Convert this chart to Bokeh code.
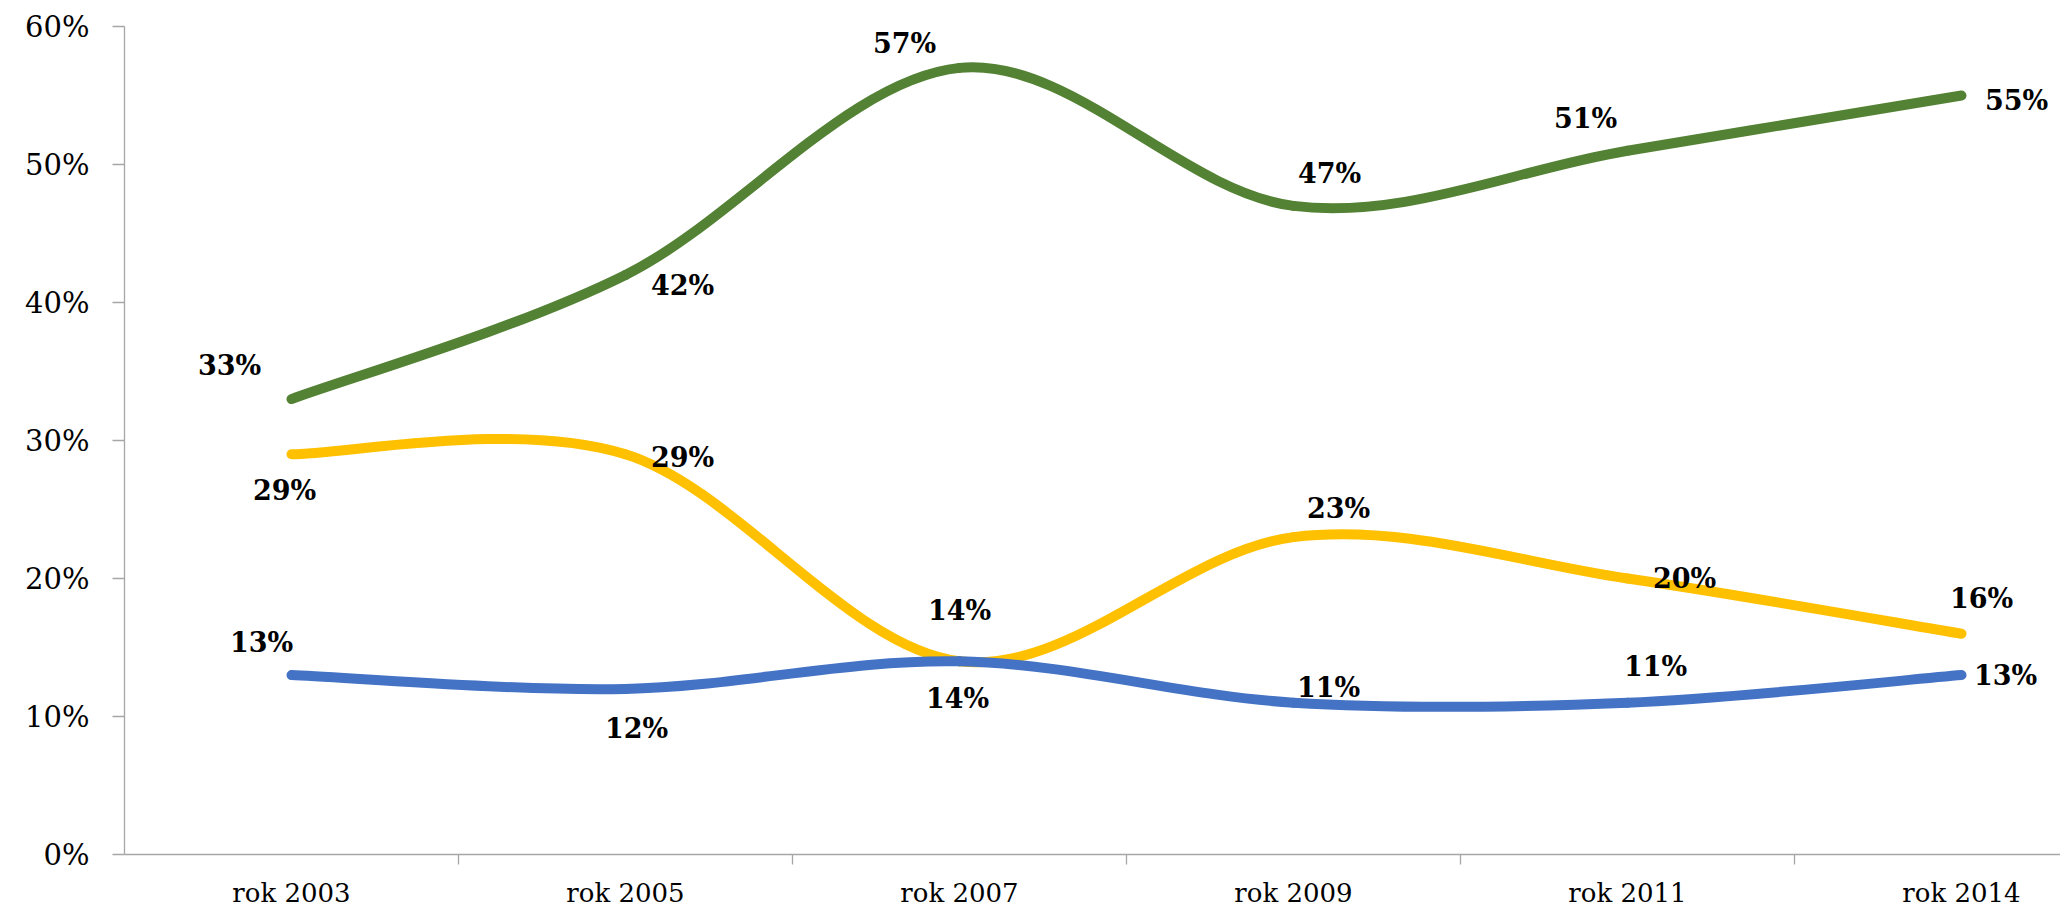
from bokeh.plotting import figure
from bokeh.models import FixedTicker, PrintfTickFormatter, ColumnDataSource, Range1d
from bokeh.core.properties import value
from bokeh.embed import file_html
from bokeh.resources import INLINE

# ---- data ----
categories = ["rok 2003", "rok 2005", "rok 2007", "rok 2009", "rok 2011", "rok 2014"]
green_vals = [33, 42, 57, 47, 51, 55]
yellow_vals = [29, 29, 14, 23, 20, 16]
blue_vals = [13, 12, 14, 11, 11, 13]
y_ticks = [0, 10, 20, 30, 40, 50, 60]

# ---- styles ----
GREEN = "#548235"
YELLOW = "#FFC000"
BLUE = "#4472C4"
AXIS = "#A6A6A6"
FONT = "DejaVu Serif"

# label offsets in pixels (dx, dy; dy positive = downward)
green_off = [(-62, -34), (57, 11), (-55, -24), (36, -32), (-42, -32), (55, 5)]
yellow_off = [(-7, 36), (57, 3), (0, -51), (45, -29), (57, 0), (20, -35)]
blue_off = [(-30, -33), (11, 40), (-2, 37), (35, -15), (28, -36), (44, 0)]

W, H = 2060, 914
LEFT, TOP, BOTTOM = 124, 26, 60
PX_PER_CAT = 334
FRAME_W = W - LEFT

p = figure(width=W, height=H,
           x_range=Range1d(-0.5, -0.5 + FRAME_W / PX_PER_CAT),
           y_range=Range1d(0, 60),
           output_backend="svg", toolbar_location=None,
           min_border_left=LEFT, min_border_right=0,
           min_border_top=TOP, min_border_bottom=BOTTOM)
p.outline_line_color = None
p.xgrid.visible = False
p.ygrid.visible = False
p.background_fill_color = "white"
p.border_fill_color = "white"

idx = list(range(len(categories)))

# x axis
p.xaxis.ticker = FixedTicker(ticks=idx, minor_ticks=[i + 0.5 for i in idx])
p.xaxis.major_label_overrides = {i: c for i, c in zip(idx, categories)}
p.xaxis.major_tick_out = 0
p.xaxis.major_tick_in = 0
p.xaxis.minor_tick_out = 10
p.xaxis.minor_tick_in = 0
p.xaxis.minor_tick_line_color = AXIS
p.xaxis.minor_tick_line_width = 1.3
p.xaxis.axis_line_color = AXIS
p.xaxis.axis_line_width = 1.3
p.xaxis.major_label_text_font = FONT
p.xaxis.major_label_text_font_size = "26px"
p.xaxis.major_label_text_color = "black"
p.xaxis.major_label_standoff = 13

# y axis
p.yaxis.ticker = FixedTicker(ticks=y_ticks, minor_ticks=[])
p.yaxis.formatter = PrintfTickFormatter(format="%d%%")
p.yaxis.major_tick_out = 12
p.yaxis.major_tick_in = 0
p.yaxis.major_tick_line_color = AXIS
p.yaxis.major_tick_line_width = 1.3
p.yaxis.axis_line_color = AXIS
p.yaxis.axis_line_width = 1.3
p.yaxis.major_label_text_font = FONT
p.yaxis.major_label_text_font_size = "29px"
p.yaxis.major_label_text_color = "black"
p.yaxis.major_label_standoff = 23


def smooth_segments(vals, t=1.0 / 6.0):
    n = len(vals)
    pts = list(zip(range(n), vals))
    d = dict(x0=[], y0=[], x1=[], y1=[], cx0=[], cy0=[], cx1=[], cy1=[])
    for i in range(n - 1):
        pp = pts[max(i - 1, 0)]
        p0 = pts[i]
        p1 = pts[i + 1]
        pn = pts[min(i + 2, n - 1)]
        d["x0"].append(p0[0]); d["y0"].append(p0[1])
        d["x1"].append(p1[0]); d["y1"].append(p1[1])
        d["cx0"].append(p0[0] + (p1[0] - pp[0]) * t)
        d["cy0"].append(p0[1] + (p1[1] - pp[1]) * t)
        d["cx1"].append(p1[0] - (pn[0] - p0[0]) * t)
        d["cy1"].append(p1[1] - (pn[1] - p0[1]) * t)
    return ColumnDataSource(d)


for vals, col in [(green_vals, GREEN), (yellow_vals, YELLOW), (blue_vals, BLUE)]:
    src = smooth_segments(vals)
    p.bezier(x0="x0", y0="y0", x1="x1", y1="y1", cx0="cx0", cy0="cy0",
             cx1="cx1", cy1="cy1", source=src, line_color=col,
             line_width=10, line_cap="round")

for vals, offs in [(green_vals, green_off), (yellow_vals, yellow_off), (blue_vals, blue_off)]:
    src = ColumnDataSource(dict(
        x=idx, y=vals, text=[f"{v}%" for v in vals],
        dx=[o[0] for o in offs], dy=[o[1] for o in offs]))
    p.text(x="x", y="y", text="text", x_offset="dx", y_offset="dy", source=src,
           text_font=value(FONT), text_font_style="bold", text_font_size="27px",
           text_color="black", text_align="center", text_baseline="middle")

with open("out.html", "w") as f:
    f.write(file_html(p, INLINE))
